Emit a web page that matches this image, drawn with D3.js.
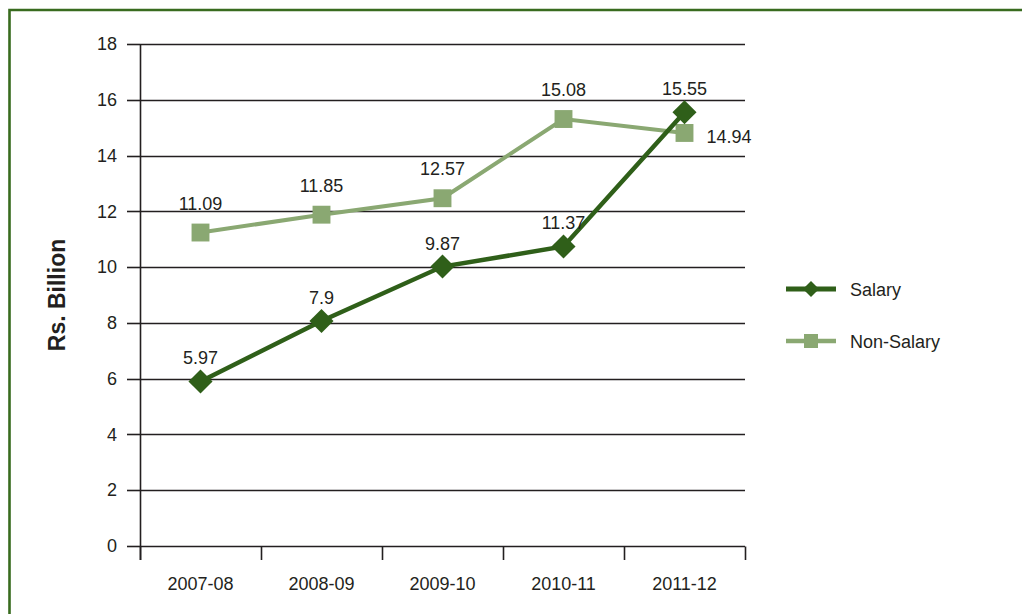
<!DOCTYPE html>
<html>
<head>
<meta charset="utf-8">
<script src="https://cdn.jsdelivr.net/npm/d3@7"></script>
<style>
  body { margin:0; background:#fff; }
  svg text { font-family: "Liberation Sans", Arial, Helvetica, sans-serif; fill:#231f20; }
</style>
</head>
<body>
<div id="chart"></div>
<script>
// values (plotted positions) + the printed labels
const years = ["2007-08", "2008-09", "2009-10", "2010-11", "2011-12"];
const salary = [5.9, 8.07, 10.02, 10.74, 15.55];
const nonSalary = [11.24, 11.88, 12.47, 15.31, 14.81];
const salaryLabels = ["5.97", "7.9", "9.87", "11.37", "15.55"];
const nonSalaryLabels = ["11.09", "11.85", "12.57", "15.08", "14.94"];
const yTicks = [0, 2, 4, 6, 8, 10, 12, 14, 16, 18];

const W = 1022, H = 614;
const svg = d3.select("#chart").append("svg").attr("width", W).attr("height", H);

// green frame (only left + top show in the crop)
svg.append("path")
  .attr("d", "M9.5,620 L9.5,10 L1030,10")
  .attr("fill", "none").attr("stroke", "#386b1f").attr("stroke-width", 2.6);

const x = d3.scaleBand().domain(years).range([140, 745]).padding(0);
const y = d3.scaleLinear().domain([0, 18]).range([546, 44]);
const ry = v => Math.round(y(v)) + 0.5; // keep hairlines crisp

// gridlines
svg.append("g").selectAll("line")
  .data(yTicks).enter().append("line")
  .attr("x1", 140).attr("x2", 745)
  .attr("y1", d => ry(d)).attr("y2", d => ry(d))
  .attr("stroke", "#231f20").attr("stroke-width", 1.6);

// y axis labels + ticks sticking out left
const gy = svg.append("g").attr("transform", "translate(140,0)")
  .call(d3.axisLeft(y).tickValues(yTicks).tickSize(0).tickSizeOuter(0).tickPadding(23));
gy.select(".domain").remove();
gy.selectAll("text").style("font-size", "18px").attr("fill", "#231f20");
svg.append("g").selectAll("line")
  .data(yTicks).enter().append("line")
  .attr("x1", 127).attr("x2", 140)
  .attr("y1", d => ry(d)).attr("y2", d => ry(d))
  .attr("stroke", "#231f20").attr("stroke-width", 1.6);
svg.append("line").attr("x1", 140.5).attr("x2", 140.5).attr("y1", y(18)).attr("y2", 560)
  .attr("stroke", "#231f20").attr("stroke-width", 1.6);

// x ticks sit on the band edges, not the centres
const edges = years.map(d => x(d)).concat([x.range()[1]]);
svg.append("g").selectAll("line")
  .data(edges).enter().append("line")
  .attr("x1", d => Math.round(d) + 0.5).attr("x2", d => Math.round(d) + 0.5)
  .attr("y1", ry(0)).attr("y2", 560)
  .attr("stroke", "#231f20").attr("stroke-width", 1.6);

svg.append("g").selectAll("text")
  .data(years).enter().append("text")
  .attr("x", d => x(d) + x.bandwidth()/2)
  .attr("y", 590)
  .attr("text-anchor", "middle")
  .style("font-size", "18px")
  .text(d => d);

// axis title
svg.append("text")
  .attr("transform", "translate(65,295) rotate(-90)")
  .attr("text-anchor", "middle")
  .style("font-size", "23px").style("font-weight", "bold")
  .text("Rs. Billion");

const cx = (d, i) => x(years[i]) + x.bandwidth()/2;
const line = d3.line().x(cx).y(d => y(d));

const series = [
  { name: "Salary", values: salary, labels: salaryLabels, color: "#2f5f19", width: 4.5,
    sym: d3.symbol(d3.symbolSquare, 290), rot: 45, dy: -17, legSym: d3.symbol(d3.symbolSquare, 130) },
  { name: "Non-Salary", values: nonSalary, labels: nonSalaryLabels, color: "#8aa872", width: 4,
    sym: d3.symbol(d3.symbolSquare, 320), rot: 0, dy: -23, legSym: d3.symbol(d3.symbolSquare, 196) }
];

// draw non-salary first so salary sits on top
series.slice().reverse().forEach(s => {
  svg.append("path").datum(s.values)
    .attr("fill", "none").attr("stroke", s.color).attr("stroke-width", s.width)
    .attr("d", line);
  svg.append("g").selectAll("path")
    .data(s.values).enter().append("path")
    .attr("d", s.sym)
    .attr("transform", (d, i) => `translate(${cx(d, i)},${y(d)}) rotate(${s.rot})`)
    .attr("fill", s.color);
});

// the last non-salary label gets pushed right of its marker
const isSide = (s, i) => s.name === "Non-Salary" && i === s.values.length - 1;
series.forEach(s => {
  svg.append("g").selectAll("text")
    .data(s.values).enter().append("text")
    .attr("x", (d, i) => isSide(s, i) ? cx(d, i) + 22 : cx(d, i))
    .attr("y", (d, i) => isSide(s, i) ? y(d) + 10 : y(d) + s.dy)
    .attr("text-anchor", (d, i) => isSide(s, i) ? "start" : "middle")
    .style("font-size", "18px")
    .text((d, i) => s.labels[i]);
});

// legend
const leg = svg.append("g").attr("transform", "translate(786,289)");
series.forEach((s, i) => {
  const g = leg.append("g").attr("transform", `translate(0,${i*52})`);
  g.append("line").attr("x1", 0).attr("x2", 50).attr("stroke", s.color).attr("stroke-width", s.width + 0.5);
  g.append("path").attr("d", s.legSym).attr("transform", `translate(25,0) rotate(${s.rot})`).attr("fill", s.color);
  g.append("text").attr("x", 64).attr("y", 7).style("font-size", "18px").text(s.name);
});
</script>
</body>
</html>
